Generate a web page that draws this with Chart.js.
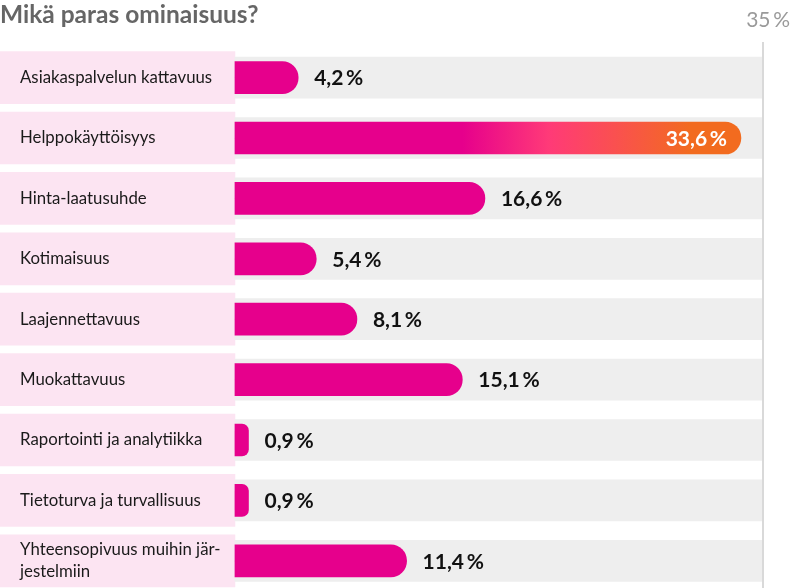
<!DOCTYPE html>
<html><head><meta charset="utf-8">
<script src="https://cdn.jsdelivr.net/npm/chart.js@4.4.1/dist/chart.umd.min.js"></script>
<style>html,body{margin:0;padding:0;background:#fff;overflow:hidden}canvas{display:block}</style>
</head><body><canvas id="c" width="800" height="591" style="width:800px;height:591px"></canvas>
<script>
const titleText = 'Mikä paras ominaisuus?';
const categories = [
  'Asiakaspalvelun kattavuus',
  'Helppokäyttöisyys',
  'Hinta-laatusuhde',
  'Kotimaisuus',
  'Laajennettavuus',
  'Muokattavuus',
  'Raportointi ja analytiikka',
  'Tietoturva ja turvallisuus',
  ['Yhteensopivuus muihin jär-', 'jestelmiin']
];
const values = [4.2, 33.6, 16.6, 5.4, 8.1, 15.1, 0.9, 0.9, 11.4];
const axisMax = 35;
const axisMaxLabel = '35\u2009%';
const labelColumnStart = -15.6;

const PINK = '#e6008c';
const fmt = v => v.toFixed(1).replace('.', ',') + '\u2009%';
const maxIndex = values.indexOf(Math.max(...values));

Chart.defaults.font.family = 'Lato, "Noto Sans", sans-serif';

function barColor(ctx) {
  const chart = ctx.chart;
  if (ctx.dataIndex !== maxIndex || !chart.chartArea || !chart.scales.x) return PINK;
  const x = chart.scales.x;
  const x0 = x.getPixelForValue(0), x1 = x.getPixelForValue(values[maxIndex]);
  const g = chart.ctx.createLinearGradient(x0, 0, x1, 0);
  g.addColorStop(0, PINK);
  g.addColorStop(0.45, PINK);
  g.addColorStop(0.62, '#ff3a78');
  g.addColorStop(0.75, '#fa5050');
  g.addColorStop(0.9, '#f26b1f');
  g.addColorStop(1, '#f26b1f');
  return g;
}

const overlay = {
  id: 'overlay',
  afterDatasetsDraw(chart) {
    const {ctx, chartArea, scales: {x}} = chart;
    const meta = chart.getDatasetMeta(0);
    ctx.save();
    ctx.font = 'bold 21px Lato, "Noto Sans", sans-serif';
    ctx.textBaseline = 'middle';
    meta.data.forEach((bar, i) => {
      const txt = fmt(values[i]);
      const w = ctx.measureText(txt).width;
      if (bar.x + 16 + w > chartArea.right) {
        ctx.fillStyle = '#fff'; ctx.textAlign = 'right';
        ctx.fillText(txt, bar.x - 14, bar.y + 1);
      } else {
        ctx.fillStyle = '#111'; ctx.textAlign = 'left';
        ctx.fillText(txt, bar.x + 16, bar.y + 1);
      }
    });
    const xm = x.getPixelForValue(axisMax);
    ctx.fillStyle = '#d9d9d9';
    ctx.fillRect(xm, 42, 2, chart.height - 42);
    ctx.font = '21px Lato, "Noto Sans", sans-serif';
    ctx.fillStyle = '#9a9a9a';
    ctx.textAlign = 'right';
    ctx.fillText(axisMaxLabel, xm + 28, 20);
    ctx.restore();
  }
};

new Chart(document.getElementById('c'), {
  type: 'bar',
  data: {
    labels: categories,
    datasets: [
      { data: values, backgroundColor: barColor, barThickness: 32, borderRadius: 16, grouped: false, order: 0 },
      { data: categories.map(() => axisMax), backgroundColor: '#eeeeee', barThickness: 41, grouped: false, order: 1 },
      { data: categories.map(() => [labelColumnStart, 0]), backgroundColor: '#fce4f2', barThickness: 52, borderSkipped: false, grouped: false, order: 2 }
    ]
  },
  options: {
    indexAxis: 'y',
    responsive: false,
    maintainAspectRatio: false,
    animation: false,
    events: [],
    layout: { padding: { left: 0, right: 38, top: 0, bottom: 0 } },
    plugins: {
      legend: { display: false },
      tooltip: { enabled: false },
      title: {
        display: true, text: titleText, align: 'start', color: '#666',
        font: { size: 24.5, weight: 'bold', lineHeight: 1.2 },
        padding: { top: 0, bottom: 18 }
      }
    },
    scales: {
      x: { type: 'linear', min: labelColumnStart, max: axisMax, display: false },
      y: {
        type: 'category',
        grid: { display: false, drawTicks: false },
        border: { display: false },
        ticks: { mirror: true, padding: 20, z: 1, color: '#1a1a1a', autoSkip: false,
          font: { size: 16.8, lineHeight: 1.31 } },
        afterFit: s => { s.width = 0; s.paddingTop = 0; s.paddingBottom = 0; }
      }
    }
  },
  plugins: [overlay]
});
</script>
</body></html>
